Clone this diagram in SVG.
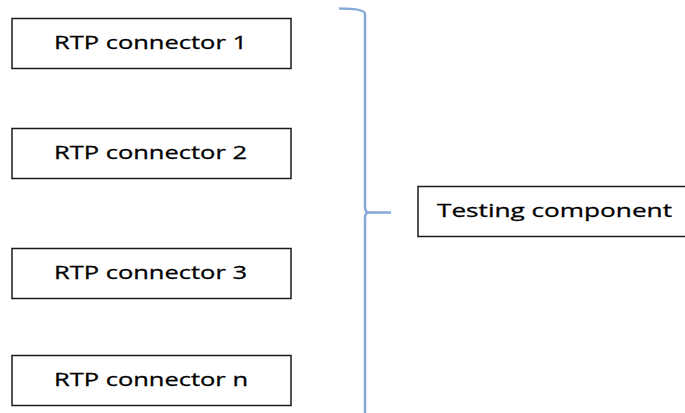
<svg xmlns="http://www.w3.org/2000/svg" width="685" height="413" viewBox="0 0 685 413">
<style>
.box{fill:#fff;stroke:#1a1a1a;stroke-width:1.5}
.lbl{font-family:"Open Sans","Liberation Sans",sans-serif;font-size:19px;fill:#000;stroke:#000;stroke-width:0.3}
.brace{fill:none;stroke:#86a9d9;stroke-width:2.5;stroke-linejoin:round}
</style>
<rect width="685" height="413" fill="#fff"/>
<g id="connectors">
<path class="brace" d="M339,8.5 Q365,8.5 365,14 V207 Q365,212.5 369,212.5 H391 M369,212.5 Q365,212.5 365,218 V413"/>
</g>
<g id="rtp1">
<rect class="box" x="12" y="18.5" width="279" height="50"/>
<text class="lbl" x="54" y="48.5" textLength="193" lengthAdjust="spacingAndGlyphs">RTP connector 1</text>
</g>
<g id="rtp2">
<rect class="box" x="12" y="128.5" width="279" height="50"/>
<text class="lbl" x="54" y="158.5" textLength="193" lengthAdjust="spacingAndGlyphs">RTP connector 2</text>
</g>
<g id="rtp3">
<rect class="box" x="12" y="248.5" width="279" height="50"/>
<text class="lbl" x="54" y="278.5" textLength="193" lengthAdjust="spacingAndGlyphs">RTP connector 3</text>
</g>
<g id="rtpn">
<rect class="box" x="12" y="355.5" width="279" height="50"/>
<text class="lbl" x="54" y="385.5" textLength="194" lengthAdjust="spacingAndGlyphs">RTP connector n</text>
</g>
<g id="testing">
<rect class="box" x="418" y="186.5" width="280" height="50"/>
<text class="lbl" x="437" y="216.5" textLength="235" lengthAdjust="spacingAndGlyphs">Testing component</text>
</g>
</svg>
